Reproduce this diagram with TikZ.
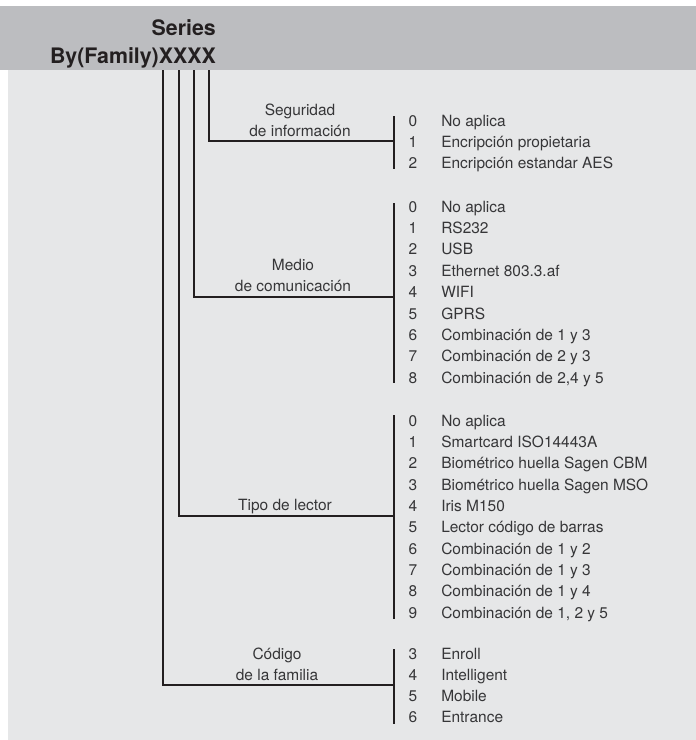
\documentclass[tikz,border=0pt]{standalone}
\usepackage{fontspec}
\setmainfont{TeX Gyre Heros}
\definecolor{hdr}{HTML}{BCBDC0}
\definecolor{bodybg}{HTML}{E6E7E8}
\definecolor{txt}{HTML}{363638}
\definecolor{ln}{HTML}{231F20}
\tikzset{
  hdrtext/.style={anchor=base east,inner sep=0pt,font=\fontsize{16}{19}\selectfont\bfseries,text=ln},
  lbl/.style={anchor=base,inner sep=0pt,font=\fontsize{11.6}{14}\selectfont,text=txt},
  num/.style={anchor=base,inner sep=0pt,font=\fontsize{11.6}{14}\selectfont,text=txt},
  itm/.style={anchor=base west,inner sep=0pt,font=\fontsize{11.6}{14}\selectfont,text=txt},
  conn/.style={draw=ln,line width=1.6pt},
}
\begin{document}
\begin{tikzpicture}[x=0.75pt,y=-0.75pt]
\useasboundingbox (0,0) rectangle (696,740);
\fill[bodybg] (8,70) rectangle (696,740);
\fill[hdr] (0,6) rectangle (696,70);
\node[hdrtext] (series) at (216,35) {Series};
\node[hdrtext] (code) at (216,63) {By(Family)XXXX};
% top coordinates of the four lines
\coordinate (t1) at (163,70);
\coordinate (t2) at (179,70);
\coordinate (t3) at (194,70);
\coordinate (t4) at (209,70);
% Seguridad
\coordinate (s1) at (209,141);
\coordinate (s2) at (394,141);
\coordinate (sa) at (394,116);
\coordinate (sb) at (394,169);
\node[lbl] (sl1) at (300,115) {Seguridad};
\node[lbl] (sl2) at (300,136) {de información};
\draw[conn] (t4) -- (s1) -- (s2);
\draw[conn] (sa) -- (sb);
\foreach \n/\t [count=\i from 0] in {0/No aplica,1/Encripción propietaria,2/Encripción estandar AES}{
  \node[num] (sn\i) at (413,126+21*\i) {\n};
  \node[itm] (si\i) at (441,126+21*\i) {\t};
}
% Medio
\coordinate (m1) at (194,297);
\coordinate (m2) at (394,297);
\coordinate (ma) at (394,203);
\coordinate (mb) at (394,383);
\node[lbl] (ml1) at (293,270) {Medio};
\node[lbl] (ml2) at (293,291) {de comunicación};
\draw[conn] (t3) -- (m1) -- (m2);
\draw[conn] (ma) -- (mb);
\foreach \n/\t [count=\i from 0] in {0/No aplica,1/RS232,2/USB,3/Ethernet 803.3.af,4/WIFI,5/GPRS,6/Combinación de 1 y 3,7/Combinación de 2 y 3,8/{Combinación de 2,4 y 5}}{
  \node[num] (mn\i) at (413,212+21.4*\i) {\n};
  \node[itm] (mi\i) at (441,212+21.4*\i) {\t};
}
% Tipo de lector
\coordinate (r1) at (179,516);
\coordinate (r2) at (394,516);
\coordinate (ra) at (394,415);
\coordinate (rb) at (394,619);
\node[lbl] (rl1) at (285,510) {Tipo de lector};
\draw[conn] (t2) -- (r1) -- (r2);
\draw[conn] (ra) -- (rb);
\foreach \n/\t [count=\i from 0] in {0/No aplica,1/Smartcard ISO14443A,2/Biométrico huella Sagen CBM,3/Biométrico huella Sagen MSO,4/Iris M150,5/Lector código de barras,6/Combinación de 1 y 2,7/Combinación de 1 y 3,8/Combinación de 1 y 4,9/{Combinación de 1, 2 y 5}}{
  \node[num] (rn\i) at (413,426+21.35*\i) {\n};
  \node[itm] (ri\i) at (441,426+21.35*\i) {\t};
}
% Codigo de la familia
\coordinate (c1) at (163,685);
\coordinate (c2) at (394,685);
\coordinate (ca) at (394,649);
\coordinate (cb) at (394,724);
\node[lbl] (cl1) at (277,659) {Código};
\node[lbl] (cl2) at (277,680) {de la familia};
\draw[conn] (t1) -- (c1) -- (c2);
\draw[conn] (ca) -- (cb);
\foreach \n/\t [count=\i from 0] in {3/Enroll,4/Intelligent,5/Mobile,6/Entrance}{
  \node[num] (cn\i) at (413,659+21.3*\i) {\n};
  \node[itm] (ci\i) at (441,659+21.3*\i) {\t};
}
\end{tikzpicture}
\end{document}
